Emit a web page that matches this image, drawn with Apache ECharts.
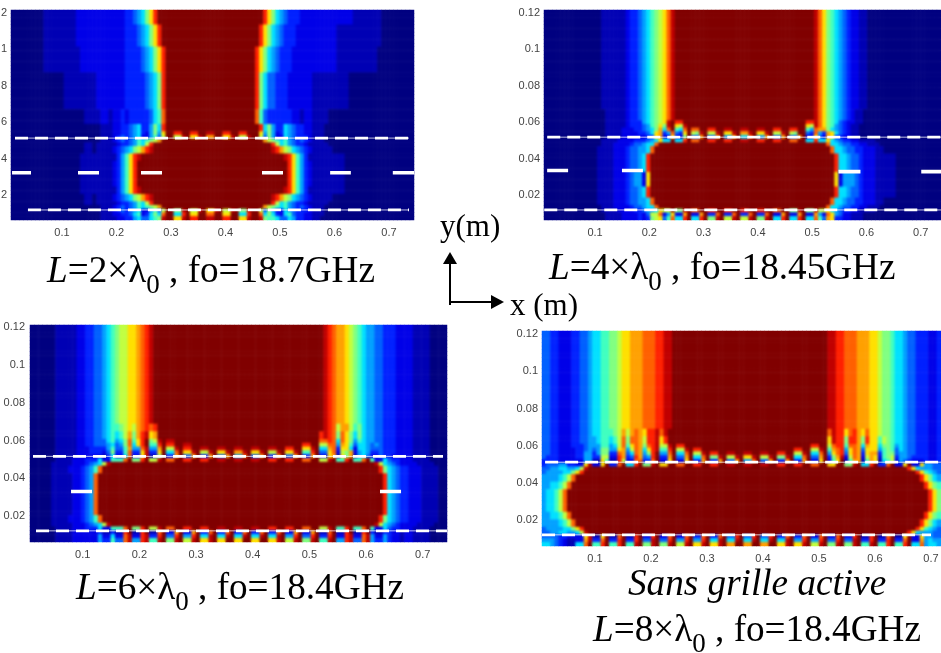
<!DOCTYPE html>
<html><head><meta charset="utf-8">
<style>html,body{margin:0;padding:0;background:#fff}#w{position:relative;width:941px;height:653px;overflow:hidden}
#c,#t{position:absolute;left:0;top:0;width:941px;height:653px}#t{z-index:3}
.soft{position:absolute;z-index:2;backdrop-filter:blur(1.2px);-webkit-backdrop-filter:blur(1.2px);pointer-events:none}</style>
<script src="https://cdn.jsdelivr.net/npm/echarts@6/dist/echarts.min.js"></script>
</head><body><div id="w"><div id="c"></div><div id="t"></div></div>
<script>
// Field level (hex 0..f), one [repeat, row] per band of rows, top to bottom.
// A token "abcd*n" is a group of four columns repeated n times; four columns is one slot period.
const rowsL2 = [
[4,"0000*2 1111*2 2222*3 3345 68ad ffff*6 ffda 8654 3332 2222*3 1111 1110 0000*2"],
[6,"0000*2 1111*2 2222*3 3334 568a dfff ffff*5 fda8 6543 3322 2222*2 1111*2 1110 0000*2"],
[7,"0000*2 1111*2 1222 2222 2222 3333 4568 adff ffff*5 da86 5433 3222 2222*2 1111*2 1100 0000*2"],
[10,"0000*3 0111 1111 1222 2222 3333 3456 8dff ffff*5 d864 4333 2222 2211 1111 1110 0000*4"],
[4,"0000*4 0011 1122 1223 2333 3346 7cff ffff*5 c743 3333 3221 2211 1100 0000*5"],
[2,"0000*5 0011 1223 3456 3358 6dff ffff*5 fd68 5336 5433 2211 1000 0000*5"],
[1,"0000*5 0011 1223 3456 3258 5aff ddff ddff eeff ddff ddff fa58 5236 5433 2211 1000 0000*5"],
[1,"0000*5 0011 1234 3456 2257 49ff 99ef aaef bbff aaef 99ef f948 5226 5433 3211 1000 0000*5"],
[1,"0000*5 0011 1234 3457 6789 bfff ffff*5 ffb9 8767 5434 3211 1000 0000*5"],
[1,"0000*4 0011 0111 1123 3457 69df ffff*7 d967 5433 2111 1100 0000*5"],
[2,"0000*4 0011 0111 1234 5689 bdef ffff*7 edb9 8654 3211 1110 0000*5"],
[2,"0000*4 0111 1111 1135 7ade ffff*8 fffe da75 3111 1111 1100 0000*4"],
[7,"0000*4 0111 1111 1235 7adf ffff*9 da75 3211 1111 1100 0000*4"],
[2,"0000*4 0111 1111 1135 7ade ffff*8 fffe da75 3111 1111 1100 0000*4"],
[2,"0000*4 0011 0111 1234 5689 bdef ffff*7 edb9 8654 3211 1110 0000*5"],
[1,"0000*4 0011 0111 1123 3457 69df ffff*7 d967 5433 2111 1100 0000*5"],
[1,"0000*5 0011 1234 3457 6789 bfff ffff*5 ffb9 8767 5434 3211 1000 0000*5"],
[1,"0000*5 0011 1234 3456 2257 49ff 88ef 99ef aaef 99ef 88ef f948 5226 5433 3211 1000 0000*5"],
[1,"0000*5 0011 1223 3467 2368 6cff 66df aaff ccff aaff 66df fc68 6326 7433 2211 1000 0000*5"],
[1,"0000*5 0011 1122 3356 4467 8eff aaef ddff eeff ddff aaef fe87 7644 6533 2211 0000*6"]
];
const rowsL4 = [
[27,"0000*3 0011 1111 2334 5678 9ace ffff*8 ffec a876 5432 2110 0000*5"],
[3,"0000*3 0001 1111 2334 5678 9ace ffff*8 ffec a876 5432 1100 0000*5"],
[1,"0000*3 0001 1111 2333 5678 9aef ddff ffff*7 ddec a876 4322 1100 0000*5"],
[1,"0000*3 0001 1111 2333 4578 a8ef a9ef ffff*7 a9ec a875 4321 1000 0000*5"],
[1,"0000*3 0001 1112 2233 4568 b6cf 76cf ccff ddff eeff eeff eeff ddff ddff 75cb b865 4321 1000 0000*5"],
[1,"0000*3 0001 1112 2223 346a b35c 43af 98ef 99ef aaef bbef aaef 99ef 98ff 43c5 3ba6 4321 1000 0000*5"],
[1,"0000*3 0001 1112 2222 233a b22a 228f 44bf 44bf 55bf 66cf 55bf 44bf 44bf 22a4 2ba3 3221 1000 0000*5"],
[1,"0000*3 0011 1122 2233 3456 a66f 66df ccff ddff ddff eeff ddff ddff ccff 66d6 6a65 4332 2111 1000 0000*4"],
[1,"0000*3 0011 1222 2344 566c ffff*10 fc66 5443 3221 1100 0000*4"],
[2,"0000*3 0111 1222 3445 56cf ffff*10 ffc6 6544 3322 2110 0000*4"],
[5,"0000*3 0111 1222 3445 6dff ffff*10 fffd 6654 4322 2111 1100 0000*3"],
[4,"0000*3 0111 1222 3455 2aff ffff*10 fffa 2555 4322 2111 1100 0000*3"],
[3,"0000*3 0111 1222 3445 6dff ffff*10 fffd 6654 4322 2111 1100 0000*3"],
[2,"0000*3 0111 1222 3445 56cf ffff*10 ffc6 6544 3322 2110 0000*4"],
[1,"0000*3 0011 1222 2344 566c ffff*10 fc66 5443 3221 1100 0000*4"],
[1,"0000*3 0011 1122 2233 4556 a99f 88ef ccff ddff ddff ddff ddff ccff 88ef 88e9 9a65 4332 2111 1000 0000*4"],
[1,"0000*3 0001 1112 2223 2499 c25a 22bf 22bf 33cf 33cf 33cf 33cf 22bf 22bf 22b5 2ca5 4221 1100 0000*5"],
[1,"0000*3 0001 1112 2223 2389 a47c 66df 66df 88ef 99ef 99ef 88ef 66df 66df 66c7 4ba3 3221 1100 0000*5"]
];
const rowsL6 = [
[26,"0000 0011 1112 2334 4567 899a abcd efff ffff*9 fedc bba9 8765 5443 3322 2211 1100 0000"],
[2,"0000 0011 1112 2334 4567 789a 9bcd cdff ffff*9 fedc 9bb9 7865 5443 3322 2211 1100 0000"],
[2,"0000 0011 1112 2334 4567 679b 8bde abff ffff*9 dedc 8ca8 6865 5443 3322 2211 1100 0000"],
[1,"0000 0011 1112 2334 4467 568c 7adf 89ef eeff ffff*8 ccdc 6ca8 5765 5443 3322 2211 1100 0000"],
[1,"0000 0011 1112 2334 4456 458c 6adf 77df ddff eeff ffff*6 ddff 99cc 5ba7 4665 4543 3322 2211 1100 0000"],
[1,"0000 0011 1112 2233 3357 447b 55ce 55bf 99ef ddff eeff eeff eeff eeff eeff ddff aaef 66bc 3aa6 2665 4443 3322 2211 1100 0000"],
[1,"0000 0011 1112 2233 3248 337c 33ae 33af 66cf aaef 99ef aaef bbef aaef 99ef aaef 77df 44ac 298b 2565 3343 3322 2211 1100 0000"],
[1,"0000 0011 1112 2222 2136 226c 22ae 118f 33bf 44bf 33bf 44bf 55cf 44bf 33bf 44bf 33bf 22ab 1a8b 1564 2243 3222 2211 1100 0000"],
[1,"0000 0011 1122 2333 6227 77cf 88df 99ef ccff ddff ddff eeff eeff eeff ddff ddff ccff 99ef 77df 77cf 7226 4332 2211 1100 0000"],
[1,"0000 0111 1122 2345 69ef ffff*15 fe96 5432 2221 1110 0000"],
[2,"0000 0111 1222 3457 cfff ffff*15 ffd8 6543 3222 1111 0000"],
[11,"0000 0111 1122 345c ffff*16 fffd 6543 3222 1111 0000"],
[2,"0000 0111 1222 3457 cfff ffff*15 ffd8 6543 3222 1111 0000"],
[1,"0000 0111 1122 2345 69ef ffff*15 fe96 5432 2221 1110 0000"],
[1,"0000 0011 1122 2333 6227 77cf 88df 99ef ccff ddff ddff eeff eeff eeff ddff ddff ccff 99ef 77df 77cf 7226 4332 2211 1100 0000"],
[1,"0000 0011 1122 2222 3113 11df 11df 11cf 22bf 22bf 33cf 33cf 33cf 33cf 33cf 22bf 22bf 11cf 11df 11df 3113 3221 2211 1100 0000"],
[1,"0000 0011 1122 2222 5226 22ce 22de 33df 44df 55df 66ef 66ef 66ef 66ef 66ef 55df 44df 33df 22de 22ce 5225 3221 2211 1100 0000"],
[1,"0000 0011 1122 2222 5337 44ce 55de 77ef 88ef 99ef aaef aaff aaff aaff aaef 99ef 88ef 77ef 55de 44ce 5335 3221 2211 1100 0000"]
];
const rowsL8 = [
[26,"4433 2223 3445 6677 889a abbb cccd deef ffff*9 eedd cccb bbaa 9887 6654 4333 2233"],
[2,"4433 2223 3445 6677 789b 9bcb adde ceff ffff*9 cedd acdb acaa 9887 6654 4333 2233"],
[2,"4433 2223 3445 5677 679c 8ccb 9dde adff ffff*9 aedd 8ddb 8daa 7987 6654 4333 2233"],
[1,"4433 2223 3345 5577 569c 7acb 8cde 99ef ddff ffff*7 ddff 9cdd 7ccb 6baa 6887 5654 4333 2233"],
[1,"4433 2222 3345 4588 55ab 59cb 6ade 77df 99ef ddff ffff*5 ddff 99ef 7bcd 5acb 4aaa 5787 4654 4333 2233"],
[1,"4433 2222 3355 3588 33cb 46cb 58df 55cf 66cf 99ef ddff eeff eeff eeff ddff 99ef 66cf 5acd 4acb 3abb 3788 4554 4333 2233"],
[1,"4333 2222 3355 3399 22db 34db 45df 33bf 44bf 66cf 88ef 99ef aaef 99ef 88ef 66cf 44bf 38be 29cb 29ba 2789 3554 3333 2233"],
[1,"3333 2222 2255 11a7 11d9 22cc 33cf 22af 22af 33bf 33bf 44bf 55cf 44bf 33bf 33bf 22af 27af 17bb 17ba 1679 2543 2223 2233"],
[1,"3444 5533 22ae 22af 33cf 66df 88ef aaff ccff ddff ddff eeff eeff eeff ddff ddff ccff aaff 88ef 66df 33cf 22af 22a5 544"],
[1,"4455 6655 69ef ffff*18 fffd a655 544"],
[1,"4555 5668 adff ffff*19 fda7 654"],
[2,"5555 679c ffff*20 ffda 865"],
[2,"5566 79cf ffff*20 fffd a87"],
[6,"5667 9cff ffff*21 da8"],
[2,"5566 79cf ffff*20 fffd a87"],
[2,"5555 679c ffff*20 ffda 865"],
[1,"4555 5668 adff ffff*19 fda7 654"],
[1,"4455 6655 69ef ffff*18 fffd a655 544"],
[1,"4444 3322 22ae 11af 11cf 11df 22df 22cf 22cf 33cf 33cf 44df 44df 44df 33cf 33cf 22cf 22cf 22df 11df 11cf 11af 22a5 544"],
[1,"5554 3211 22be 33cf 33df 33df 44ef 44df 55df 55df 66ef 66ef 66ef 66ef 66ef 55df 55df 44df 44ef 33df 33df 33cf 22b5 655"],
[1,"6654 3211 66cf 77df 77df 77ef 88ef 88ef 99ef aaef aaef bbff bbff bbff aaef aaef 99ef 88ef 88ef 77ef 77df 77df 66c5 665"]
];

const xTicks = [0.1,0.2,0.3,0.4,0.5,0.6,0.7];
const yTicks = [0.02,0.04,0.06,0.08,0.1,0.12];
const yTickLabelsCut = ["2","4","6","8","1","2"]; // first panel: the picture cuts these labels off
const slotTopL2 = [[0.0137,0.0512],[0.7367,0.0512]];
const slotBotL2 = [[0.0375,0.0118],[0.7367,0.0118]];
const gateL2 = [[0.0083,0.0431],[0.1294,0.1679],[0.245,0.2835],[0.467,0.5055],[0.592,0.63],[0.707,0.746]];
const gateYL2 = 0.0322;
const slotTopL4 = [[0.012,0.0517],[0.7374,0.0517]];
const slotBotL4 = [[0.0065,0.0118],[0.7374,0.0118]];
const gateLeftL4 = [[0.0118,0.0504],[0.1496,0.1882]];
const gateRightL4 = [[0.5485,0.589],[0.701,0.7374]];
const slotTopL6 = [[0.0123,0.0516],[0.7358,0.0516]];
const slotBotL6 = [[0.0176,0.0121],[0.7427,0.0121]];
const gateL6 = [[0.0794,0.1164],[0.6246,0.6617]];
const gateYL6 = 0.033;
const slotTopL8 = [[0.011,0.0511],[0.7179,0.0511]];
const slotBotL8 = [[0.0054,0.012],[0.7,0.012]];

const jet = ['#000080','#0000b4','#0000e8','#0020ff','#0060ff','#00a0ff','#00e0ff','#40ffc0','#80ff80','#c0ff40','#ffe000','#ffa000','#ff6000','#ff2000','#c00000','#800000'];
const serif = '"Liberation Serif","Times New Roman",serif';
const sans = '"Liberation Sans",Arial,sans-serif';

function expandRow(text, cols){
  let s = '';
  text.split(' ').forEach(t => { const p = t.split('*'); s += p[0].repeat(p[1] ? +p[1] : 1); });
  while (s.length < cols) s += s[s.length-1];
  return s.slice(0, cols);
}
function cells(rows, cols){
  const out = []; let r = 0;
  rows.forEach(([n, text]) => {
    const s = expandRow(text, cols);
    for (let k = 0; k < n; k++, r++) for (let c = 0; c < cols; c++) out.push([c, r, parseInt(s[c], 16)]);
  });
  return {data: out, nRows: r};
}
const panels = [
 {rows: rowsL2, cols: 99, left: 11, top: 10, width: 403, height: 210, x: [0.0064,0.7459], y: [0.0063,0.1214], margin: 4},
 {rows: rowsL4, cols: 97, left: 544, top: 10, width: 397, height: 210, x: [0.006,0.7374], y: [0.0063,0.1214], margin: 4},
 {rows: rowsL6, cols: 98, left: 30, top: 325, width: 417, height: 217, x: [0.007,0.7428], y: [0.0062,0.1212], margin: 5},
 {rows: rowsL8, cols: 95, left: 542, top: 331, width: 399, height: 215, x: [0.0054,0.7179], y: [0.006,0.1217], margin: 4}
];
const grid=[], catX=[], catY=[], valX=[], valY=[], heat=[], over=[];
const idx = n => Array.from({length:n},(_, i)=>i);
panels.forEach((p,i)=>{
  const f = cells(p.rows, p.cols);
  grid.push({left:p.left, top:p.top, width:p.width, height:p.height, containLabel:false, outerBoundsMode:'none'});
  catX.push({type:'category', gridIndex:i, data:idx(p.cols), show:false});
  catY.push({type:'category', gridIndex:i, data:idx(f.nRows), inverse:true, show:false});
  const lbl = {color:'#444', fontFamily:sans, fontSize:11};
  valX.push({type:'value', gridIndex:i, position:'bottom', min:p.x[0], max:p.x[1], splitLine:{show:false}, axisLine:{show:false}, axisTick:{show:false},
    axisLabel:Object.assign({customValues:xTicks, margin:7}, lbl)});
  valY.push({type:'value', gridIndex:i, position:'left', min:p.y[0], max:p.y[1], splitLine:{show:false}, axisLine:{show:false}, axisTick:{show:false},
    axisLabel:Object.assign({customValues:yTicks, margin:p.margin,
      formatter: i===0 ? (v => yTickLabelsCut[yTicks.indexOf(v)]) : (v => String(v))}, lbl)});
  heat.push({type:'heatmap', xAxisIndex:i, yAxisIndex:i, data:f.data, progressive:0, animation:false, silent:true, itemStyle:{borderWidth:0}});
  const d = document.createElement('div');
  d.className = 'soft';
  d.style.cssText = `left:${p.left}px;top:${p.top}px;width:${p.width}px;height:${p.height}px`;
  document.getElementById('w').appendChild(d);
});
function lineS(i, data, width, dash, color){
  over.push({type:'line', xAxisIndex:i, yAxisIndex:i, data, symbol:'none', silent:true, animation:false, z:5,
    lineStyle:{color:color||'#fff', width, type: dash || 'solid', cap:'butt'}});
}
function slot(i, pts){ lineS(i, pts, 1, null, 'rgba(255,255,255,0.75)'); lineS(i, pts, 2.8, [13,7]); }
function gate(i, segs, y){
  const d=[]; segs.forEach(([a,b])=>{d.push([a,y],[b,y],[b,'-']);});
  lineS(i, d, 3.6);
}
slot(0,slotTopL2); slot(0,slotBotL2); gate(0,gateL2,gateYL2);
slot(1,slotTopL4); slot(1,slotBotL4); gate(1,gateLeftL4,0.0334); gate(1,gateRightL4,0.0328);
slot(2,slotTopL6); slot(2,slotBotL6); gate(2,gateL6,gateYL6);
slot(3,slotTopL8); slot(3,slotBotL8);

const fs = 37.2;
const rich = {
  i:{fontFamily:serif, fontSize:fs, fontStyle:'italic', fill:'#000', lineHeight:44, verticalAlign:'top'},
  n:{fontFamily:serif, fontSize:fs, fill:'#000', lineHeight:44, verticalAlign:'top'},
  s:{fontFamily:serif, fontSize:27, fill:'#000', lineHeight:45, verticalAlign:'bottom'}
};
function cap(x,y,l,f){
  return {type:'text', x, y, z:10, silent:true, style:{text:`{i|L}{n|=${l}×λ}{s|0}{n| , fo=${f}}`, rich, fontFamily:serif, fontSize:fs, verticalAlign:'middle', fill:'#000'}};
}
const graphic = [
  cap(47,276.5,'2','18.7GHz'),
  cap(549,273.5,'4','18.45GHz'),
  cap(76,593.5,'6','18.4GHz'),
  cap(593,635.5,'8','18.4GHz'),
  {type:'text', x:628, y:585, z:10, silent:true, style:{text:'Sans grille active', fontFamily:serif, fontStyle:'italic', fontSize:fs, fill:'#000', verticalAlign:'middle'}},
  {type:'text', x:440, y:228, z:10, silent:true, style:{text:'y(m)', fontFamily:serif, fontSize:31, fill:'#000', verticalAlign:'middle'}},
  {type:'text', x:510, y:307, z:10, silent:true, style:{text:'x (m)', fontFamily:serif, fontSize:31, fill:'#000', verticalAlign:'middle'}},
  {type:'line', z:10, silent:true, shape:{x1:450,y1:260,x2:450,y2:305}, style:{stroke:'#000', lineWidth:2}},
  {type:'line', z:10, silent:true, shape:{x1:449,y1:302,x2:494,y2:302}, style:{stroke:'#000', lineWidth:2}},
  {type:'polygon', z:10, silent:true, shape:{points:[[450,252],[443,264],[457,264]]}, style:{fill:'#000'}},
  {type:'polygon', z:10, silent:true, shape:{points:[[504,302],[491,295],[491,309]]}, style:{fill:'#000'}}
];
const field = echarts.init(document.getElementById('c'), null, {renderer:'canvas'});
field.setOption({
  animation:false, backgroundColor:'#fff', grid, xAxis:catX, yAxis:catY,
  visualMap:{show:false, type:'continuous', min:0, max:15, dimension:2, seriesIndex:[0,1,2,3], inRange:{color:jet}},
  series: heat
});
const top_ = echarts.init(document.getElementById('t'), null, {renderer:'canvas'});
top_.setOption({
  animation:false, backgroundColor:'transparent', grid, xAxis:valX, yAxis:valY, series: over, graphic
});
</script></body></html>
